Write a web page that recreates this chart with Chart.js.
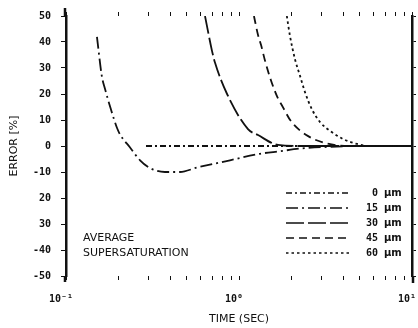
<!DOCTYPE html>
<html>
<head>
<meta charset="utf-8">
<script src="https://cdn.jsdelivr.net/npm/chart.js@4"></script>
<style>
  html, body { margin: 0; padding: 0; background: #fff; }
  canvas { display: block; }
</style>
</head>
<body>
<canvas id="chart" width="418" height="328"></canvas>
<script>
// time in seconds, error in percent, one pair per initial size
const time0 = [0.29, 0.5, 1, 2, 4, 10]
const err0 = [0, 0, 0, 0, 0, 0]
const time15 = [0.151, 0.161, 0.168, 0.182, 0.197, 0.205, 0.234, 0.268, 0.306, 0.373, 0.456, 0.571, 0.887, 1.32, 1.73, 2.25, 3.36, 5, 10]
const err15 = [42, 27, 22, 14, 7, 4.5, -0.5, -5.5, -8.5, -10, -10, -8.3, -5.5, -3, -2, -1, -0.3, 0, 0]
const time30 = [0.636, 0.698, 0.727, 0.853, 1.127, 1.288, 1.68, 2.25, 10]
const err30 = [50, 36.6, 32, 20, 6.5, 4.2, 0.4, 0, 0]
const time45 = [1.22, 1.288, 1.34, 1.414, 1.531, 1.68, 1.772, 2.0, 2.51, 3.18, 4.38, 10]
const err45 = [50, 42.7, 38.9, 32.8, 25.2, 18.3, 15.6, 9.5, 3.8, 1.1, 0, 0]
const time60 = [1.89, 1.97, 2.11, 2.25, 2.41, 2.64, 2.94, 3.45, 3.99, 4.81, 5.71, 10]
const err60 = [50, 42.4, 33.2, 27.1, 20.6, 14.1, 9.2, 5.3, 2.7, 0.8, 0, 0]

const sizes = ["0", "15", "30", "45", "60"]

// y tick labels as printed on the plot
const yValues = [-50, -40, -30, -20, -10, 0, 10, 20, 30, 40, 50]
const yLabels = ["-50", "-40", "30", "20", "-10", "0", "10", "20", "30", "40", "50"]

// log ticks along the time axis, labels only on decades
const xTicks = [0.1, 0.2, 0.3, 0.4, 0.5, 0.6, 0.7, 0.8, 0.9, 1, 2, 3, 4, 5, 6, 7, 8, 9, 10]
const xLabels = { 0.1: "10⁻¹", 1: "10⁰", 10: "10¹" }

const INK = "#111"
const numFont = { family: "'DejaVu Sans Mono', monospace", size: 10, weight: "bold" }
const textFont = "'DejaVu Sans', sans-serif"

const dashes = [[6, 3, 2, 3], [12, 4, 2, 4], [18, 4], [8, 5], [2.5, 3]]

function pairs(xs, ys) {
  return xs.map((x, i) => ({ x, y: ys[i] }))
}

const series = [
  pairs(time0, err0),
  pairs(time15, err15),
  pairs(time30, err30),
  pairs(time45, err45),
  pairs(time60, err60),
]

// hand-drawn key in the lower right plus the caption at left
const sizeKey = {
  id: "sizeKey",
  afterDraw(chart) {
    const ctx = chart.ctx
    const area = chart.chartArea
    ctx.save()
    ctx.fillStyle = INK
    ctx.strokeStyle = INK

    // the vertical axes run a little past the plot box
    ctx.lineWidth = 2.5
    ctx.beginPath()
    ctx.moveTo(area.left - 1, area.top - 8)
    ctx.lineTo(area.left - 1, area.top)
    ctx.moveTo(area.left - 1, area.bottom)
    ctx.lineTo(area.left - 1, area.bottom + 6)
    ctx.moveTo(area.right + 1, area.bottom)
    ctx.lineTo(area.right + 1, area.bottom + 7)
    ctx.stroke()

    ctx.textBaseline = "middle"
    chart.data.datasets.forEach((ds, i) => {
      const y = 193 + i * 15
      ctx.lineWidth = 1.3
      ctx.setLineDash(ds.borderDash)
      ctx.beginPath()
      ctx.moveTo(286, y)
      ctx.lineTo(350, y)
      ctx.stroke()
      ctx.setLineDash([])
      ctx.font = "bold 10px 'DejaVu Sans Mono'"
      ctx.textAlign = "right"
      ctx.fillText(sizes[i], 378, y)
      ctx.textAlign = "left"
      ctx.font = "bold 10px " + textFont
      ctx.fillText("µm", 384, y)
    })
    ctx.font = "11px " + textFont
    ctx.textAlign = "left"
    ctx.fillText("AVERAGE", 83, 238)
    ctx.fillText("SUPERSATURATION", 83, 253)
    ctx.restore()
  },
}

// keep the plot box fixed: no extra room for the end labels
function noSidePad(s) {
  s.paddingLeft = 0
  s.paddingRight = 0
}

new Chart(document.getElementById("chart"), {
  type: "line",
  data: {
    datasets: series.map((pts, i) => ({
      label: sizes[i] + " µm",
      data: pts,
      borderColor: INK,
      borderWidth: 1.8,
      borderDash: dashes[i],
      pointRadius: 0,
      cubicInterpolationMode: "monotone",
      fill: false,
    })),
  },
  options: {
    responsive: false,
    animation: false,
    devicePixelRatio: 1,
    layout: { padding: 0 },
    plugins: { legend: { display: false }, tooltip: { enabled: false } },
    scales: {
      x: {
        type: "logarithmic",
        position: "bottom",
        min: 0.1,
        max: 10,
        afterBuildTicks: (s) => { s.ticks = xTicks.map((v) => ({ value: v })) },
        afterFit: (s) => { s.height = 52; noSidePad(s) },
        ticks: {
          autoSkip: false,
          maxRotation: 0,
          padding: 13,
          labelOffset: -5,
          color: INK,
          font: numFont,
          callback: (v) => xLabels[v] || "",
        },
        grid: { drawOnChartArea: false, tickLength: 4, color: INK, tickWidth: 1 },
        border: { display: false },
        title: { display: true, text: "TIME (SEC)", color: INK, font: { family: textFont, size: 11 }, padding: { top: 2, bottom: 2 } },
      },
      xTop: {
        type: "logarithmic",
        position: "top",
        min: 0.1,
        max: 10,
        afterBuildTicks: (s) => { s.ticks = xTicks.map((v) => ({ value: v })) },
        afterFit: (s) => { s.height = 13; noSidePad(s) },
        ticks: { display: false },
        grid: { drawOnChartArea: false, tickLength: 4, color: INK, tickWidth: 1 },
        border: { display: false },
      },
      y: {
        position: "left",
        min: -50,
        max: 50,
        afterBuildTicks: (s) => { s.ticks = yValues.map((v) => ({ value: v })) },
        afterFit: (s) => { s.width = 66 },
        ticks: {
          padding: 10,
          color: INK,
          font: numFont,
          callback: (v) => yLabels[yValues.indexOf(v)],
        },
        grid: { drawOnChartArea: false, tickLength: 5, color: INK, tickWidth: 1 },
        border: { color: INK, width: 2.5 },
        title: { display: true, text: "ERROR [%]", color: INK, font: { family: textFont, size: 11 }, padding: { top: 8, bottom: 0 } },
      },
      yRight: {
        position: "right",
        min: -50,
        max: 50,
        afterBuildTicks: (s) => { s.ticks = yValues.map((v) => ({ value: v })) },
        afterFit: (s) => { s.width = 6 },
        ticks: { display: false },
        grid: { drawOnChartArea: false, tickLength: 4, color: INK, tickWidth: 1 },
        border: { color: INK, width: 2.5 },
      },
    },
  },
  plugins: [sizeKey],
})
</script>
</body>
</html>
